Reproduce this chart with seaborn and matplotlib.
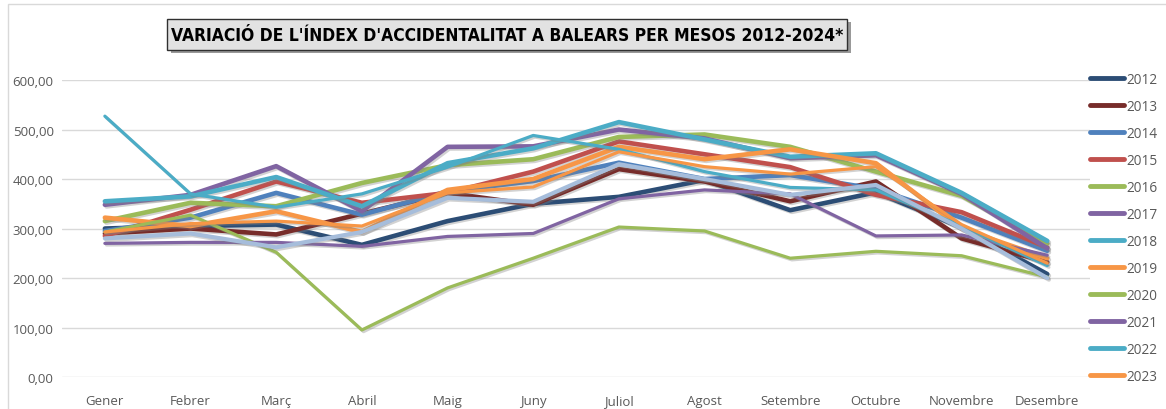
import pandas as pd
import numpy as np
import seaborn as sns
import matplotlib.pyplot as plt
import matplotlib.patheffects as pe
from matplotlib.patches import Rectangle

months = ["Gener", "Febrer", "Març", "Abril", "Maig", "Juny", "Juliol",
          "Agost", "Setembre", "Octubre", "Novembre", "Desembre"]
years = [2012, 2013, 2014, 2015, 2016, 2017, 2018, 2019, 2020, 2021, 2022, 2023, 2024]

y2012 = [300, 305, 308, 267, 315, 350, 364, 398, 337, 373, 302, 208]
y2013 = [290, 300, 288, 330, 372, 348, 420, 395, 355, 395, 280, 232]
y2014 = [295, 322, 372, 328, 375, 396, 433, 400, 408, 380, 322, 255]
y2015 = [285, 338, 395, 352, 372, 415, 476, 450, 424, 368, 333, 262]
y2016 = [315, 352, 345, 392, 428, 440, 485, 490, 465, 415, 366, 270]
y2017 = [348, 368, 426, 335, 465, 466, 500, 482, 442, 448, 370, 260]
y2018 = [355, 365, 404, 345, 432, 462, 515, 480, 445, 452, 372, 275]
y2019 = [322, 305, 335, 293, 378, 400, 465, 440, 460, 432, 300, 240]
y2020 = [293, 327, 252, 95, 180, 240, 303, 295, 240, 254, 245, 202]
y2021 = [270, 272, 272, 264, 284, 290, 360, 378, 370, 285, 287, 246]
y2022 = [527, 370, 343, 370, 424, 488, 460, 415, 383, 378, 305, 225]
y2023 = [293, 310, 315, 305, 372, 384, 455, 425, 410, 425, 308, 230]
y2024 = [280, 290, 262, 293, 362, 354, 430, 400, 368, 388, 300, 200]

series = [y2012, y2013, y2014, y2015, y2016, y2017, y2018,
          y2019, y2020, y2021, y2022, y2023, y2024]

colors = ["#2C4D75", "#772C2A", "#4F81BD", "#C0504D", "#9BBB59", "#8064A2", "#4BACC6",
          "#F79646", "#9BBB59", "#8064A2", "#4BACC6", "#F79646", "#A6BDDB"]
widths = [3.3] * 8 + [2.3] * 4 + [3.0]

df = pd.DataFrame({
    "Mes": months * len(years),
    "Any": np.repeat(years, len(months)),
    "Index": np.concatenate(series),
})

sns.set_style("white")
plt.rcParams["font.family"] = ["Open Sans", "DejaVu Sans"]

fig = plt.figure(figsize=(11.66, 4.10), dpi=100)
ax = fig.add_axes([0.0532, 0.078, 0.8817, 0.7244])

shadow = [pe.SimpleLineShadow(offset=(1.2, -1.2), shadow_color="gray", alpha=0.35), pe.Normal()]
for yr, col, lw in zip(years, colors, widths):
    sub = df[df["Any"] == yr]
    sns.lineplot(data=sub, x="Mes", y="Index", ax=ax, color=col, linewidth=lw,
                 sort=False, label=str(yr), path_effects=shadow)

ax.set_xlim(-0.5, 11.5)
ax.set_ylim(0, 600)
ax.set_yticks(range(0, 601, 100))
ax.set_yticklabels([f"{v:.2f}".replace(".", ",") for v in range(0, 601, 100)])
ax.yaxis.grid(True, color="#D9D9D9", linewidth=1)
ax.set_axisbelow(True)
for s in ax.spines.values():
    s.set_visible(False)
ax.tick_params(axis="both", length=0, labelsize=9.5, colors="#595959")
ax.tick_params(axis="x", pad=12)
ax.tick_params(axis="y", pad=6)
ax.set_xlabel("")
ax.set_ylabel("")

handles, labels = ax.get_legend_handles_labels()
leg = ax.legend(handles[:12], labels[:12], loc="upper left", bbox_to_anchor=(0.992, 1.055),
                frameon=False, fontsize=9.8, handlelength=2.5, labelspacing=0.88,
                handletextpad=0.2, borderaxespad=0.2)
for t in leg.get_texts():
    t.set_color("#595959")
for h in leg.get_lines():
    h.set_linewidth(3.5)
    h.set_path_effects([])

# chart border
fig.patches.append(Rectangle((0.007, -0.01), 1.0, 0.997, transform=fig.transFigure,
                             fill=False, edgecolor="#D9D9D9", linewidth=1))

# title box with shadow
fig.patches.append(Rectangle((0.147, 0.868), 0.583, 0.075, transform=fig.transFigure,
                             facecolor="#555555", edgecolor="none", alpha=0.6))
fig.patches.append(Rectangle((0.143, 0.876), 0.583, 0.075, transform=fig.transFigure,
                             facecolor="#E2E2E2", edgecolor="#303030", linewidth=1))
fig.text(0.4345, 0.913, "VARIACIÓ DE L'ÍNDEX D'ACCIDENTALITAT A BALEARS PER MESOS 2012-2024*",
         ha="center", va="center", fontsize=12.5, fontweight="bold", fontstretch="condensed",
         family=["DejaVu Sans"], color="#000000")

fig.savefig("out.png", dpi=100)
